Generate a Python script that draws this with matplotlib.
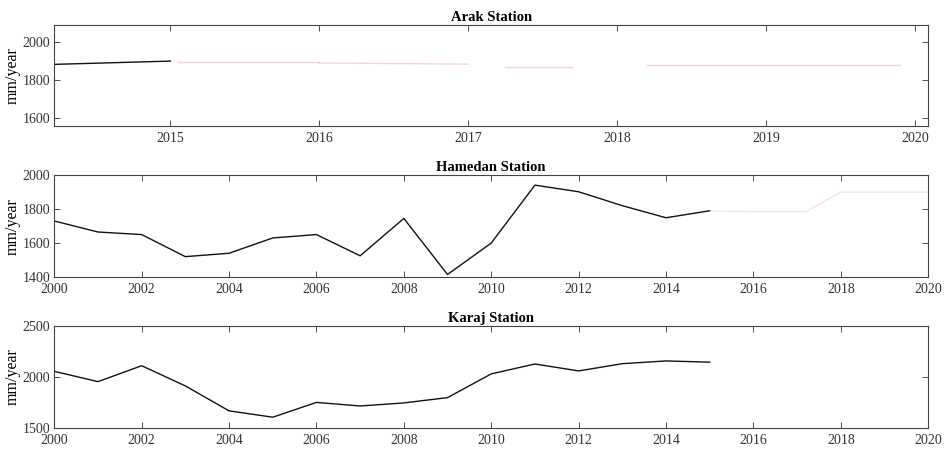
import numpy as np
import matplotlib.pyplot as plt

plt.rcParams['font.family'] = 'Liberation Serif'
plt.rcParams['font.size'] = 10

# Arak station (short record plus faded segments)
arak_years = [2014.0, 2015.0]
arak_rain = [1878, 1900]
arak_faded = [
    ([2015.05, 2016.0], [1896, 1896]),
    ([2016.0, 2017.0], [1890, 1884]),
    ([2017.25, 2017.7], [1870, 1870]),
    ([2018.2, 2019.9], [1882, 1882]),
]

# Hamedan station
hamedan_years = list(range(2000, 2016))
hamedan_rain = [1730, 1665, 1650, 1520, 1540, 1630, 1650, 1525,
                1745, 1415, 1600, 1941, 1902, 1820, 1749, 1790]
hamedan_faded_years = [2015, 2016, 2017.2, 2018, 2019.3, 2020]
hamedan_faded_rain = [1788, 1785, 1785, 1900, 1900, 1900]

# Karaj station
karaj_years = list(range(2000, 2016))
karaj_rain = [2055, 1954, 2110, 1912, 1667, 1605, 1750, 1715,
              1745, 1797, 2030, 2127, 2059, 2130, 2157, 2145]

fig = plt.figure(figsize=(9.52, 4.49), dpi=100)
left, width = 0.057, 0.918
ax1 = fig.add_axes([left, 0.719, width, 0.225])
ax2 = fig.add_axes([left, 0.383, width, 0.227])
ax3 = fig.add_axes([left, 0.047, width, 0.227])

ax1.plot(arak_years, arak_rain, color='#111111', lw=1.0)
for xs, ys in arak_faded:
    ax1.plot(xs, ys, color='#f08080', lw=1.0, alpha=0.35)
ax1.set_xlim(2014.22, 2020.09)
ax1.set_ylim(1558, 2089)
ax1.set_xticks([2015, 2016, 2017, 2018, 2019, 2020])
ax1.set_yticks([1600, 1800, 2000])
ax1.set_title('Arak Station', fontweight='bold', fontsize=10.5, pad=3)

ax2.plot(hamedan_years, hamedan_rain, color='#111111', lw=1.0)
ax2.plot(hamedan_faded_years, hamedan_faded_rain, color='#e8a0a0', lw=1.0, alpha=0.3)
ax2.set_xlim(2000, 2020)
ax2.set_ylim(1400, 2000)
ax2.set_xticks(range(2000, 2021, 2))
ax2.set_yticks([1400, 1600, 1800, 2000])
ax2.set_title('Hamedan Station', fontweight='bold', fontsize=10.5, pad=3)

ax3.plot(karaj_years, karaj_rain, color='#111111', lw=1.0)
ax3.set_xlim(2000, 2020)
ax3.set_ylim(1500, 2500)
ax3.set_xticks(range(2000, 2021, 2))
ax3.set_yticks([1500, 2000, 2500])
ax3.set_title('Karaj Station', fontweight='bold', fontsize=10.5, pad=3)

for ax in (ax1, ax2, ax3):
    ax.set_ylabel('mm/year', fontsize=11.5, labelpad=1)
    ax.tick_params(direction='in', top=True, right=True, length=4,
                   width=0.6, color='#333333', labelcolor='#333333')
    ax.tick_params(axis='x', pad=4.5)
    ax.tick_params(axis='y', pad=3)
    for s in ax.spines.values():
        s.set_linewidth(0.8)
        s.set_color('#444444')

fig.savefig('out.png', dpi=100)
